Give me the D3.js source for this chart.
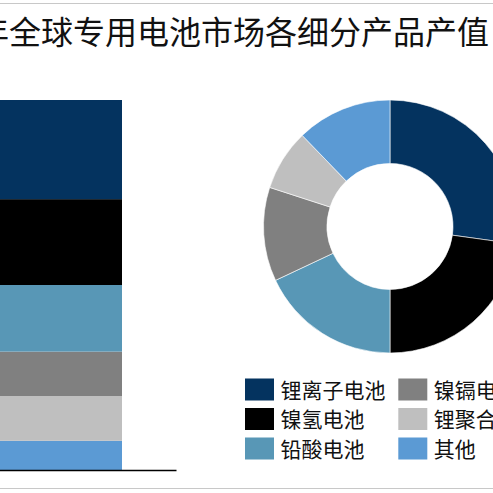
<!DOCTYPE html>
<html>
<head>
<meta charset="utf-8">
<script src="https://cdn.jsdelivr.net/npm/d3@7"></script>
<style>
  html, body { margin: 0; padding: 0; background: #fff; }
  svg { display: block; font-family: "Noto Sans CJK SC", sans-serif; }
</style>
</head>
<body>
<div class="container"></div>
<script>
// categories, in legend order
var categories = ["锂离子电池", "镍氢电池", "铅酸电池", "镍镉电池", "锂聚合物电池", "其他"];
var colors = ["#04335f", "#000000", "#5897b6", "#808080", "#bfbfbf", "#5b9ad4"];
var barValues = [26.8, 23.2, 18.0, 12.0, 12.1, 7.9];
var donutValues = [27.2, 22.8, 18.0, 12.0, 7.8, 12.2];
var titleText = "年全球专用电池市场各细分产品产值占比";

var width = 493,
    height = 493;

var svg = d3.select("div.container").append("svg")
    .attr("width", width)
    .attr("height", height);

// frame lines top and bottom
svg.append("line").attr("x1", 0).attr("x2", width).attr("y1", 3.5).attr("y2", 3.5)
    .attr("stroke", "#c8c8c8").attr("stroke-width", 1.2);
svg.append("line").attr("x1", 0).attr("x2", width).attr("y1", 488.5).attr("y2", 488.5)
    .attr("stroke", "#c8c8c8").attr("stroke-width", 1.2);

svg.append("text")
    .attr("x", -23)
    .attr("y", 44)
    .attr("font-size", 32)
    .attr("fill", "#111")
    .text(titleText);

// ---- stacked bar ----
var y = d3.scaleLinear().domain([0, 100]).range([470, 100]);
var xAxisScale = d3.scaleLinear().domain([0, 1]).range([-60, 176]);
var barLeft = -60, barRight = 122;

var row = {};
categories.forEach(function(c, i) { row[c] = barValues[i]; });
// stack from the bottom: last legend item at the bottom
var stack = d3.stack().keys(categories.slice().reverse());
var series = stack([row]);

svg.append("g").selectAll("rect")
    .data(series)
    .enter().append("rect")
    .attr("x", barLeft)
    .attr("width", barRight - barLeft)
    .attr("y", function(d) { return y(d[0][1]); })
    .attr("height", function(d) { return y(d[0][0]) - y(d[0][1]); })
    .attr("fill", function(d) { return colors[categories.indexOf(d.key)]; });

svg.append("g")
    .attr("transform", "translate(0," + y(0) + ")")
    .call(d3.axisBottom(xAxisScale).ticks(0).tickSize(0).tickSizeOuter(0))
    .call(function(g) { g.selectAll("text").remove(); })
    .select(".domain").attr("stroke", "#000").attr("stroke-width", 1.3);

// ---- donut ----
var cx = 390, cy = 226.5, R = 126.5, r = 63;
var pie = d3.pie().sort(null).value(function(d) { return d; });
var arc = d3.arc().innerRadius(r).outerRadius(R);

svg.append("g")
    .attr("transform", "translate(" + cx + "," + cy + ")")
    .selectAll("path")
    .data(pie(donutValues))
    .enter().append("path")
    .attr("d", arc)
    .attr("fill", function(d, i) { return colors[i]; })
    .attr("stroke", "#fff")
    .attr("stroke-width", 0.6);

// ---- legend ----
var legend = svg.append("g").attr("transform", "translate(245,378.5)");
var item = legend.selectAll("g")
    .data(categories)
    .enter().append("g")
    .attr("transform", function(d, i) {
        var col = Math.floor(i / 3), rw = i % 3;
        return "translate(" + (col * 153.3) + "," + (rw * 29.5) + ")";
    });
item.append("rect")
    .attr("width", 29)
    .attr("height", 22)
    .attr("fill", function(d, i) { return colors[i]; });
item.append("text")
    .attr("x", 35.5)
    .attr("y", 11.5)
    .attr("dy", "0.36em")
    .attr("font-size", 21)
    .attr("fill", "#111")
    .text(function(d) { return d; });
</script>
</body>
</html>
